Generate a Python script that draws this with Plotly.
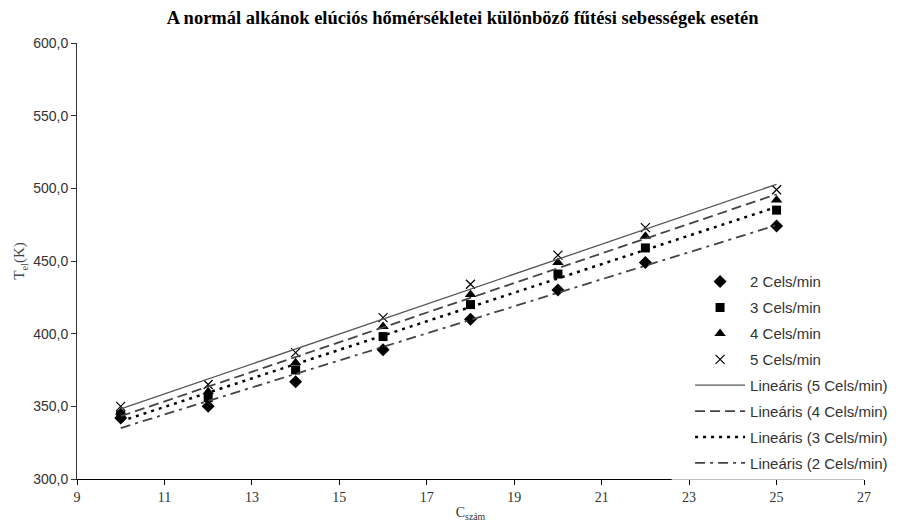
import numpy as np
import plotly.graph_objects as go

c_number = [10, 12, 14, 16, 18, 20, 22, 25]
t_2 = [342, 350, 367, 389, 410, 430, 449, 474]
t_3 = [344, 356, 375, 398, 420, 441, 459, 485]
t_4 = [346, 360, 380, 405, 427, 449, 467, 492]
t_5 = [350, 365, 387, 411, 434, 454, 473, 499]

series_names = ["2 Cels/min", "3 Cels/min", "4 Cels/min", "5 Cels/min"]
trend_names = ["Lineáris (5 Cels/min)", "Lineáris (4 Cels/min)",
               "Lineáris (3 Cels/min)", "Lineáris (2 Cels/min)"]

title_text = "A normál alkánok elúciós hőmérsékletei különböző fűtési sebességek esetén"

fig = go.Figure()

markers = [
    dict(symbol="diamond", size=10, color="black"),
    dict(symbol="square", size=9, color="black"),
    dict(symbol="triangle-up", size=10, color="black"),
    dict(symbol="x-thin", size=9, color="black", line=dict(width=1.2, color="black")),
]
data = [t_2, t_3, t_4, t_5]
for i, (nm, ys, mk) in enumerate(zip(series_names, data, markers)):
    fig.add_trace(go.Scatter(x=c_number, y=ys, mode="markers", name=nm,
                             marker=mk, legendgroup=f"g{i}"))

line_styles = [
    dict(color="#555555", width=1.3, dash="solid"),
    dict(color="#444444", width=1.8, dash="10px,5px"),
    dict(color="black", width=2.5, dash="3px,5px"),
    dict(color="#444444", width=1.8, dash="10px,5px,3px,5px"),
]
trend_data = [t_5, t_4, t_3, t_2]
xs = np.array([c_number[0], c_number[-1]], dtype=float)
for j, (nm, ys, ls) in enumerate(zip(trend_names, trend_data, line_styles)):
    k, b = np.polyfit(c_number, ys, 1)
    fig.add_trace(go.Scatter(x=xs, y=k * xs + b, mode="lines", name=nm,
                             line=ls, legendgroup=f"h{j}"))

# page body has an 8px default margin, so the figure is sized 8px smaller
fig.update_layout(
    width=896, height=521,
    margin=dict(l=69, r=11, t=35, b=47),
    paper_bgcolor="white", plot_bgcolor="white",
    separators=", ",
    title=dict(text=title_text, x=0.49, xref="paper", xanchor="center",
               y=0.982, yanchor="middle",
               font=dict(family="Liberation Serif", size=18.5, color="black", weight="bold")),
    font=dict(family="Liberation Sans", size=12, color="#333333"),
    showlegend=True,
    legend=dict(x=0.779, y=0.49, xanchor="left", yanchor="top",
                bgcolor="white", borderwidth=0, itemwidth=50,
                traceorder="grouped", tracegroupgap=3.4,
                font=dict(family="Liberation Sans", size=15, color="#333333")),
    shapes=[dict(type="rect", xref="paper", yref="paper", x0=0.7556, x1=1.0,
                 y0=-0.0015, y1=0.03, fillcolor="white", line=dict(width=0),
                 layer="above")],
)
fig.update_xaxes(range=[9, 27], tickmode="linear", tick0=9, dtick=2,
                 showgrid=False, zeroline=False, showline=True,
                 linecolor="black", linewidth=1, ticks="outside", ticklen=5,
                 tickcolor="black", ticklabeloverflow="allow",
                 tickfont=dict(family="Liberation Sans Narrow", size=14, color="#333333"),
                 title=dict(text="C<sub>szám</sub>", standoff=3,
                            font=dict(family="Liberation Serif", size=14, color="#333333")))
fig.update_yaxes(range=[300, 600], tickmode="linear", tick0=300, dtick=50,
                 tickformat=".1f",
                 showgrid=False, zeroline=False, showline=True,
                 linecolor="#333333", linewidth=1, ticks="outside", ticklen=5,
                 tickcolor="#333333",
                 tickfont=dict(family="Liberation Sans", size=14, color="#333333"),
                 title=dict(text="T<sub>el</sub>(K)", standoff=4,
                            font=dict(family="Liberation Serif", size=15, color="#444444")))

fig.write_html("out.html")
